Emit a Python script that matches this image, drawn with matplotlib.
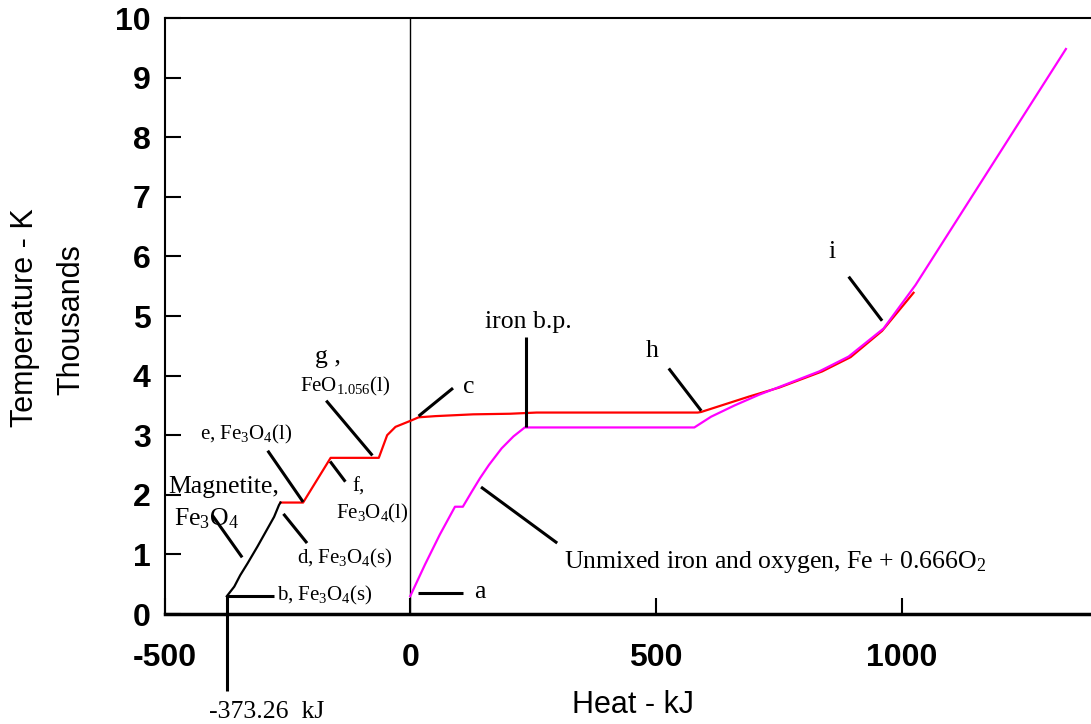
import matplotlib
matplotlib.use("Agg")
import matplotlib.pyplot as plt

plt.rcParams["mathtext.fontset"] = "custom"
plt.rcParams["mathtext.rm"] = "Liberation Serif"
plt.rcParams["mathtext.default"] = "regular"

# Heat (kJ) and temperature (thousands of K) along each heating path
heat_solid = [-373.26, -358, -346, -331, -311, -294, -277, -267, -264]
temp_solid = [0.298, 0.46, 0.65, 0.85, 1.13, 1.38, 1.63, 1.83, 1.87]

heat_oxide = [-264, -218, -162, -64, -47, -30, -12, 0, 17, 51, 128, 203, 257,
              585, 592, 690, 751, 838, 896, 960, 1024]
temp_oxide = [1.87, 1.87, 2.62, 2.62, 3.00, 3.14, 3.20, 3.24, 3.30, 3.32, 3.35,
              3.36, 3.38, 3.38, 3.39, 3.65, 3.80, 4.07, 4.31, 4.75, 5.39]

heat_mix = [0, 30, 60, 91, 107, 125, 142, 160, 186, 210, 233, 578, 612, 660,
            710, 751, 832, 892, 963, 1028, 1334]
temp_mix = [0.30, 0.83, 1.33, 1.80, 1.80, 2.05, 2.28, 2.50, 2.78, 2.98, 3.13,
            3.13, 3.31, 3.50, 3.68, 3.81, 4.07, 4.32, 4.79, 5.52, 9.48]

x_ticks = [-500, 0, 500, 1000]
x_tick_labels = ["-500", "0", "500", "1000"]
y_ticks = list(range(0, 11))

SERIF = "Liberation Serif"
SANS = "Liberation Sans"

fig = plt.figure(figsize=(10.91, 7.24), dpi=100)
ax = fig.add_axes([164.5 / 1091, 110 / 724, 983 / 1091, 596 / 724])
ax.set_xlim(-500, 1500)
ax.set_ylim(0, 10)

ax.axvline(0, color="black", lw=1.0, zorder=1)

ax.plot(heat_solid, temp_solid, color="black", lw=1.6, zorder=3)
ax.plot(heat_oxide, temp_oxide, color="#ff0000", lw=1.6, zorder=2)
ax.plot(heat_mix, temp_mix, color="#ff00ff", lw=1.6, zorder=3)

# Leader lines from labels to points on the curves
leaders = [
    ((-403, 1.66), (-342, 0.95)),   # magnetite
    ((-290, 2.74), (-218, 1.88)),   # e
    ((-258, 1.68), (-210, 1.19)),   # d
    ((-163, 2.56), (-132, 2.22)),   # f
    ((-171, 3.58), (-77, 2.66)),    # g
    ((17, 3.32), (87, 3.79)),       # c
    ((-373.26, 0.298), (-278, 0.298)),  # b
    ((-373.26, 0.298), (-373.26, -1.30)),  # starting heat
    ((15, 0.36), (108, 0.36)),      # a
    ((236, 4.64), (236, 3.14)),     # iron b.p.
    ((526, 4.12), (592, 3.41)),     # h
    ((892, 5.66), (960, 4.92)),     # i
    ((144, 2.13), (299, 1.19)),     # unmixed
]
for (x0, y0), (x1, y1) in leaders:
    ax.plot([x0, x1], [y0, y1], color="black", lw=2.2, solid_capstyle="butt",
            clip_on=False, zorder=4)

big = 18.5
small = 15
labels = [
    (-492, 2.03, "Magnetite,", big),
    (-480, 1.49, "Fe$_3$O$_4$", big),
    (-427, 2.92, "e, Fe$_3$O$_4$(l)", small),
    (-118, 2.06, "f,", small),
    (-151, 1.61, "Fe$_3$O$_4$(l)", small),
    (-230, 0.84, "d, Fe$_3$O$_4$(s)", small),
    (-271, 0.235, "b, Fe$_3$O$_4$(s)", small),
    (-409, -1.745, "-373.26  kJ", big),
    (-193, 4.21, "g ,", big),
    (-224, 3.74, "FeO$_{1.056}$(l)", small),
    (108, 3.71, "c", big),
    (153, 4.80, "iron b.p.", big),
    (480, 4.31, "h", big),
    (850, 5.97, "i", big),
    (130, 0.27, "a", big),
    (313, 0.77, "Unmixed iron and oxygen, Fe + 0.666O$_2$", big),
]
for x, y, s, size in labels:
    ax.text(x, y, s, fontsize=size, family=SERIF, ha="left", va="baseline",
            clip_on=False, zorder=5)

ax.set_xticks(x_ticks)
ax.set_xticklabels(x_tick_labels)
ax.set_yticks(y_ticks)
ax.tick_params(axis="both", direction="in", length=11.5, width=1.5, color="black")
ax.tick_params(axis="x", pad=21)
ax.tick_params(axis="y", pad=10)
for lab in ax.get_xticklabels() + ax.get_yticklabels():
    lab.set_fontfamily(SANS)
    lab.set_fontweight("bold")
    lab.set_fontsize(23)

ax.spines["right"].set_visible(False)
ax.spines["left"].set_linewidth(1.5)
ax.spines["top"].set_linewidth(1.5)
ax.spines["bottom"].set_linewidth(2.5)

fig.text(633.5 / 1091, 1 - 705 / 724, "Heat - kJ", fontsize=22, family=SANS,
         ha="center", va="center")
fig.text(25 / 1091, 1 - 318 / 724, "Temperature - K", fontsize=22, family=SANS,
         ha="center", va="center", rotation=90)
fig.text(71 / 1091, 1 - 320 / 724, "Thousands", fontsize=22, family=SANS,
         ha="center", va="center", rotation=90)

fig.savefig("out.png", dpi=100)
